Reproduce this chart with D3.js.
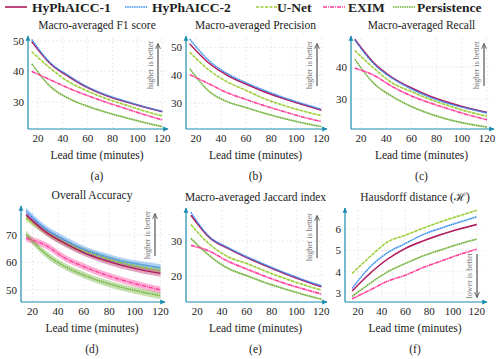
<!DOCTYPE html>
<html>
<head>
<meta charset="utf-8">
<script src="https://cdn.jsdelivr.net/npm/d3@7"></script>
<style>
  body { margin: 0; background: #fff; }
</style>
</head>
<body>
<div id="chart"></div>
<script>
// lead times (minutes)
var leadTimes = [15, 30, 45, 60, 75, 90, 105, 120];

var methods = ['HyPhAICC-1', 'HyPhAICC-2', 'U-Net', 'EXIM', 'Persistence'];

// F1 score
var f1H1   = [49.8, 42.5, 38.2, 34.6, 32.0, 30.0, 28.3, 26.7];
var f1H2   = [50.5, 42.8, 38.5, 34.8, 32.2, 30.2, 28.4, 26.8];
var f1UNet = [46.5, 41.0, 36.5, 33.5, 31.0, 29.0, 27.0, 25.3];
var f1Exim = [40.0, 37.2, 34.4, 32.0, 29.8, 27.8, 25.8, 24.0];
var f1Pers = [42.5, 35.0, 31.0, 28.5, 26.5, 24.8, 23.2, 21.8];

// Precision
var precH1   = [51.3, 44.5, 40.0, 36.8, 34.0, 31.6, 29.5, 27.5];
var precH2   = [53.0, 45.4, 40.6, 37.3, 34.5, 32.0, 29.8, 27.8];
var precUNet = [48.3, 42.0, 37.6, 34.6, 31.5, 29.2, 27.2, 25.5];
var precExim = [40.2, 37.0, 33.7, 31.3, 29.0, 27.0, 25.0, 23.4];
var precPers = [42.4, 34.4, 30.5, 28.4, 26.3, 24.5, 22.9, 21.6];

// Recall
var recH1   = [48.6, 41.3, 36.6, 33.4, 30.8, 28.8, 27.1, 25.8];
var recH2   = [48.4, 41.0, 36.4, 33.1, 30.5, 28.5, 27.0, 25.6];
var recUNet = [45.1, 39.6, 34.9, 32.3, 29.8, 27.8, 26.0, 24.6];
var recExim = [39.6, 37.4, 33.8, 30.9, 28.7, 26.8, 25.0, 23.5];
var recPers = [42.4, 34.9, 30.7, 27.6, 25.3, 23.5, 22.2, 21.2];

// Overall accuracy
var accH1   = [77.3, 71.2, 67.0, 63.6, 61.0, 58.9, 57.3, 56.0];
var accH2   = [78.7, 72.4, 68.3, 64.8, 62.5, 60.5, 59.2, 58.1];
var accUNet = [76.1, 71.3, 67.3, 64.2, 61.8, 59.8, 58.4, 57.2];
var accExim = [68.8, 66.3, 61.7, 58.5, 55.8, 53.6, 51.7, 50.0];
var accPers = [70.3, 63.2, 58.6, 55.4, 52.9, 50.9, 49.3, 47.9];

// Jaccard index
var jacH1   = [37.4, 31.0, 27.9, 25.3, 23.0, 20.8, 18.8, 17.0];
var jacH2   = [38.2, 31.2, 28.1, 25.5, 23.2, 21.0, 19.0, 17.2];
var jacUNet = [34.7, 29.1, 25.5, 23.6, 21.4, 19.4, 17.6, 16.0];
var jacExim = [28.8, 27.1, 24.2, 22.0, 19.9, 18.0, 16.4, 14.9];
var jacPers = [30.8, 25.8, 22.2, 20.1, 18.1, 16.4, 14.8, 13.4];

// Hausdorff distance
var hausH1   = [3.10, 3.92, 4.60, 5.10, 5.45, 5.75, 6.00, 6.22];
var hausH2   = [3.22, 4.22, 4.90, 5.33, 5.75, 6.05, 6.32, 6.58];
var hausUNet = [3.92, 4.70, 5.40, 5.72, 6.05, 6.35, 6.62, 6.88];
var hausExim = [2.73, 3.14, 3.56, 3.84, 4.20, 4.50, 4.80, 5.06];
var hausPers = [2.84, 3.45, 4.00, 4.39, 4.75, 5.03, 5.30, 5.53];

var xTicks = [20, 40, 60, 80, 100, 120];

var colors = ['#b0195e', '#3a8ff0', '#9acd32', '#ff3c9a', '#6aaf32'];
var dashes = [null, '1.5,0.8', '3,1.5', '4,1,1,1', '1.5,0.8'];
var serif = '"Liberation Serif", "DejaVu Serif", "Times New Roman", serif';

var panels = [
  {title: 'Macro-averaged F1 score', tag: '(a)', series: [f1H1, f1H2, f1UNet, f1Exim, f1Pers],
   box: [28, 38, 166, 129], xd: [12, 123], yd: [21, 51], yt: [30, 40, 50], band: 0.3, hint: 'higher is better'},
  {title: 'Macro-averaged Precision', tag: '(b)', series: [precH1, precH2, precUNet, precExim, precPers],
   box: [186, 38, 325, 129], xd: [12, 123], yd: [20.7, 53.4], yt: [30, 40, 50], band: 0.3, hint: 'higher is better'},
  {title: 'Macro-averaged Recall', tag: '(c)', series: [recH1, recH2, recUNet, recExim, recPers],
   box: [351, 38, 492, 129], xd: [12, 124], yd: [20.6, 49], yt: [30, 40], band: 0.3, hint: 'higher is better'},
  {title: 'Overall Accuracy', tag: '(d)', series: [accH1, accH2, accUNet, accExim, accPers],
   box: [21, 208, 163, 302], xd: [11, 122], yd: [45.6, 79.8], yt: [50, 60, 70], band: 1.2, hint: 'higher is better'},
  {title: 'Macro-averaged Jaccard index', tag: '(e)', series: [jacH1, jacH2, jacUNet, jacExim, jacPers],
   box: [186, 210, 325, 302], xd: [11, 123], yd: [12.6, 38.9], yt: [20, 30], band: 0.3, hint: 'higher is better'},
  {title: 'Hausdorff distance (\u210B)', tag: '(f)', series: [hausH1, hausH2, hausUNet, hausExim, hausPers],
   box: [345, 210, 485, 302], xd: [9, 127], yd: [2.58, 6.9], yt: [3, 4, 5, 6], band: 0.04, hint: 'lower is better'}
];

var axisColor = '#1a8cb0';

var svg = d3.select('#chart').append('svg')
    .attr('width', 500)
    .attr('height', 359)
    .attr('font-family', serif)
    .style('font-family', serif);

var defs = svg.append('defs');
defs.append('marker')
    .attr('id', 'axarrow')
    .attr('viewBox', '0 0 10 10')
    .attr('refX', 8).attr('refY', 5)
    .attr('markerWidth', 5).attr('markerHeight', 5)
    .attr('orient', 'auto')
    .append('path')
    .attr('d', 'M0,1 L9,5 L0,9 Z')
    .attr('fill', axisColor);
defs.append('marker')
    .attr('id', 'hintarrow')
    .attr('viewBox', '0 0 10 10')
    .attr('refX', 8).attr('refY', 5)
    .attr('markerWidth', 5).attr('markerHeight', 5)
    .attr('orient', 'auto')
    .append('path')
    .attr('d', 'M0,1 L9,5 L0,9')
    .attr('fill', 'none')
    .attr('stroke', '#555')
    .attr('stroke-width', 1.5);

// legend
var legendX = [5, 125, 256, 323, 393];
var legendTextX = [32, 152, 277, 348, 417];
var legend = svg.append('g');
methods.forEach(function(m, i){
    legend.append('line')
        .attr('x1', legendX[i]).attr('x2', legendX[i] + 22)
        .attr('y1', 7).attr('y2', 7)
        .attr('stroke', colors[i])
        .attr('stroke-width', 1.6)
        .attr('stroke-dasharray', dashes[i]);
    legend.append('text')
        .attr('x', legendTextX[i]).attr('y', 11.5)
        .attr('font-size', 13.5)
        .attr('font-weight', 'bold')
        .attr('fill', '#222')
        .text(m);
});

panels.forEach(function(p){
    var x0 = p.box[0], y0 = p.box[1], x1 = p.box[2], y1 = p.box[3];
    var x = d3.scaleLinear().domain(p.xd).range([x0, x1]);
    var y = d3.scaleLinear().domain(p.yd).range([y1, y0]);
    var g = svg.append('g');

    // grid
    g.selectAll('.gx').data(xTicks).enter().append('line')
        .attr('x1', function(d){ return x(d); }).attr('x2', function(d){ return x(d); })
        .attr('y1', y0).attr('y2', y1)
        .attr('stroke', '#ddd').attr('stroke-width', 0.6)
        .attr('stroke-dasharray', '2,2');
    g.selectAll('.gy').data(p.yt).enter().append('line')
        .attr('x1', x0).attr('x2', x1)
        .attr('y1', function(d){ return y(d); }).attr('y2', function(d){ return y(d); })
        .attr('stroke', '#ddd').attr('stroke-width', 0.6)
        .attr('stroke-dasharray', '2,2');

    // bands + lines
    var area = d3.area()
        .x(function(d, i){ return x(leadTimes[i]); })
        .y0(function(d){ return y(d - p.band); })
        .y1(function(d){ return y(d + p.band); })
        .curve(d3.curveMonotoneX);
    var line = d3.line()
        .x(function(d, i){ return x(leadTimes[i]); })
        .y(function(d){ return y(d); })
        .curve(d3.curveMonotoneX);
    var order = [4, 3, 2, 0, 1];
    order.forEach(function(k){
        g.append('path')
            .attr('d', area(p.series[k]))
            .attr('fill', colors[k])
            .attr('fill-opacity', 0.4);
    });
    order.forEach(function(k){
        g.append('path')
            .attr('d', line(p.series[k]))
            .attr('fill', 'none')
            .attr('stroke', colors[k])
            .attr('stroke-width', 1.4)
            .attr('stroke-dasharray', dashes[k]);
    });

    // axes
    g.append('line')
        .attr('x1', x0).attr('x2', x0).attr('y1', y1).attr('y2', y0 - 2)
        .attr('stroke', axisColor).attr('stroke-width', 1.2)
        .attr('marker-end', 'url(#axarrow)');
    g.append('line')
        .attr('x1', x0).attr('x2', x1 + 2).attr('y1', y1).attr('y2', y1)
        .attr('stroke', axisColor).attr('stroke-width', 1.2)
        .attr('marker-end', 'url(#axarrow)');

    // tick labels
    g.selectAll('.xt').data(xTicks).enter().append('text')
        .attr('x', function(d){ return x(d); })
        .attr('y', y1 + 13)
        .attr('text-anchor', 'middle')
        .attr('font-size', 11)
        .attr('fill', '#222')
        .text(function(d){ return d; });
    g.selectAll('.yt').data(p.yt).enter().append('text')
        .attr('x', x0 - 4)
        .attr('y', function(d){ return y(d) + 4; })
        .attr('text-anchor', 'end')
        .attr('font-size', 11)
        .attr('fill', '#222')
        .text(function(d){ return d; });

    var cx = (x0 + x1) / 2;
    g.append('text')
        .attr('x', cx).attr('y', y0 - 9)
        .attr('text-anchor', 'middle')
        .attr('font-size', 11.5)
        .attr('fill', '#222')
        .text(p.title);
    g.append('text')
        .attr('x', cx).attr('y', y1 + 30)
        .attr('text-anchor', 'middle')
        .attr('font-size', 11.5)
        .attr('fill', '#222')
        .text('Lead time (minutes)');
    g.append('text')
        .attr('x', cx).attr('y', y1 + 51)
        .attr('text-anchor', 'middle')
        .attr('font-size', 11.5)
        .attr('fill', '#222')
        .text(p.tag);

    // hint arrow
    var ax = x1 - 8, tx = x1 - 16;
    var up = p.hint.indexOf('higher') === 0;
    var ha = up ? y0 + 48 : y1 - 48, hb = up ? y0 + 6 : y1 - 5;
    g.append('line')
        .attr('x1', ax).attr('x2', ax).attr('y1', ha).attr('y2', hb)
        .attr('stroke', '#555').attr('stroke-width', 1.2)
        .attr('marker-end', 'url(#hintarrow)');
    g.append('text')
        .attr('transform', 'translate(' + (tx + 3) + ',' + ((ha + hb) / 2) + ') rotate(-90)')
        .attr('text-anchor', 'middle')
        .attr('font-size', 8)
        .attr('fill', '#777')
        .text(p.hint);
});
</script>
</body>
</html>
